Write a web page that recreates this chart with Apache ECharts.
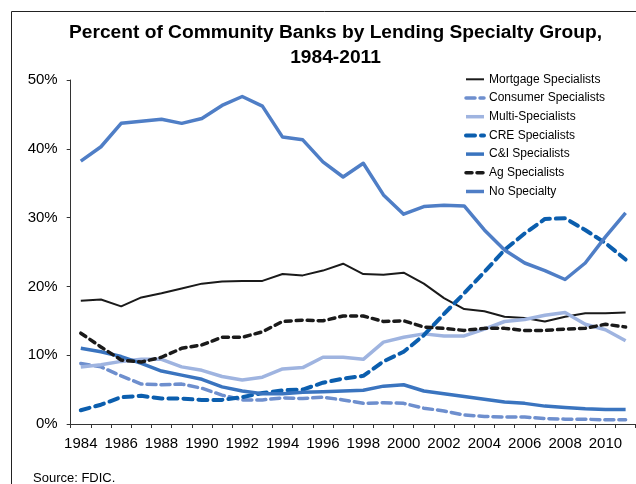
<!DOCTYPE html>
<html>
<head>
<meta charset="utf-8">
<script src="https://cdn.jsdelivr.net/npm/echarts@6/dist/echarts.min.js"></script>
<style>
html,body{margin:0;padding:0;background:#fff;}
#chart{width:636px;height:484px;}
</style>
</head>
<body>
<div id="chart"></div>
<script>
const years = ['1984','1985','1986','1987','1988','1989','1990','1991','1992','1993','1994','1995','1996','1997','1998','1999','2000','2001','2002','2003','2004','2005','2006','2007','2008','2009','2010','2011'];
const yTicks = [0, 10, 20, 30, 40, 50];
const mortgage = [17.9,18.1,17.1,18.4,19.0,19.7,20.4,20.7,20.8,20.8,21.8,21.6,22.3,23.3,21.8,21.7,22.0,20.4,18.3,16.7,16.4,15.6,15.4,14.9,15.6,16.1,16.1,16.2];
const consumer = [8.8,8.3,7.0,5.8,5.7,5.8,5.2,4.2,3.5,3.5,3.8,3.7,3.9,3.5,3.0,3.1,3.0,2.3,1.9,1.3,1.1,1.0,1.0,0.8,0.7,0.7,0.6,0.6];
const multi = [8.3,8.6,9.1,9.4,9.4,8.3,7.8,6.9,6.4,6.8,8.0,8.2,9.7,9.7,9.4,11.9,12.6,13.1,12.8,12.8,13.8,14.9,15.2,15.8,16.2,14.5,13.7,12.1];
const cre = [2.0,2.8,3.9,4.1,3.7,3.7,3.5,3.5,3.9,4.5,4.9,5.0,6.0,6.6,7.0,9.1,10.5,12.9,16.0,19.0,22.1,25.3,27.7,29.8,29.9,28.2,26.3,23.9];
const cni = [11.0,10.5,9.8,8.8,7.7,7.1,6.5,5.4,4.8,4.4,4.4,4.6,4.7,4.8,4.9,5.5,5.7,4.8,4.4,4.0,3.6,3.2,3.0,2.6,2.4,2.2,2.1,2.1];
const ag = [13.2,11.2,9.3,9.0,9.7,11.0,11.5,12.6,12.6,13.4,14.9,15.1,15.0,15.7,15.7,14.9,15.0,14.1,13.9,13.6,13.9,13.9,13.6,13.6,13.8,13.9,14.5,14.1];
const noSpecialty = [38.2,40.3,43.7,44.0,44.3,43.7,44.4,46.3,47.6,46.2,41.7,41.3,38.1,35.9,37.9,33.3,30.5,31.6,31.8,31.7,28.2,25.3,23.4,22.3,21.0,23.4,27.2,30.7];

const FONT = "'Liberation Sans', Arial, sans-serif";

function line(name, data, color, width, dash) {
  return {
    name: name, type: 'line', data: data, symbol: 'none', smooth: false,
    lineStyle: { color: color, width: width, type: dash || 'solid', cap: dash ? 'round' : 'butt', join: 'round' },
    itemStyle: { color: color },
    emphasis: { disabled: true }
  };
}

const chart = echarts.init(document.getElementById('chart'), null, { renderer: 'canvas' });
chart.setOption({
  animation: false,
  backgroundColor: '#fff',
  title: {
    text: 'Percent of Community Banks by Lending Specialty Group,\n1984-2011',
    left: 330.5, textAlign: 'center', top: 14.5,
    textStyle: { fontFamily: FONT, fontSize: 19.2, fontWeight: 'bold', color: '#000', lineHeight: 25.5 }
  },
  legend: {
    orient: 'vertical', left: 464, top: 72.3, padding: 0,
    itemWidth: 18, itemHeight: 10, itemGap: 4.7,
    itemStyle: { opacity: 0 },
    lineStyle: { width: 'inherit' },
    textStyle: { fontFamily: FONT, fontSize: 12, color: '#000', lineHeight: 14 },
    data: ['Mortgage Specialists','Consumer Specialists','Multi-Specialists','CRE Specialists','C&I Specialists','Ag Specialists','No Specialty']
  },
  grid: { left: 70.7, right: 0.3, top: 80, bottom: 60, containLabel: false },
  xAxis: {
    type: 'category', data: years, boundaryGap: true,
    axisLine: { lineStyle: { color: '#333', width: 1 } },
    axisTick: { show: true, length: 4, alignWithLabel: false, interval: 0, lineStyle: { color: '#333' } },
    axisLabel: { interval: 1, margin: 12, fontFamily: FONT, fontSize: 15, color: '#000' }
  },
  yAxis: {
    type: 'value', min: yTicks[0], max: yTicks[yTicks.length - 1], interval: 10,
    axisLine: { show: true, lineStyle: { color: '#333', width: 1 } },
    axisTick: { show: true, length: 4, lineStyle: { color: '#333' } },
    splitLine: { show: false },
    axisLabel: { margin: 13, fontFamily: FONT, fontSize: 15, color: '#000', formatter: '{value}%' }
  },
  graphic: [{
    type: 'rect', silent: true,
    shape: { x: 11.5, y: 11.5, width: 800, height: 800 },
    style: { fill: 'none', stroke: '#222', lineWidth: 1 }
  }, {
    type: 'text', silent: true, left: 33, top: 472,
    style: { text: 'Source: FDIC.', fill: '#000', font: '13px ' + FONT }
  }],
  series: [
    line('Mortgage Specialists', mortgage, '#1a1a1a', 2),
    line('Consumer Specialists', consumer, '#6e8fce', 3.5, [9, 5]),
    line('Multi-Specialists', multi, '#9fb4e0', 3.5),
    line('CRE Specialists', cre, '#0b5eae', 4, [9, 6]),
    line('C&I Specialists', cni, '#3a74bf', 3.5),
    line('Ag Specialists', ag, '#1a1a1a', 3.5, [6, 5]),
    line('No Specialty', noSpecialty, '#4f7ec6', 3.5)
  ]
});
</script>
</body>
</html>
